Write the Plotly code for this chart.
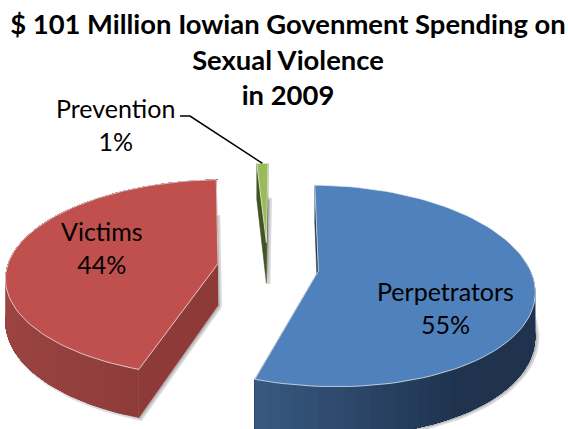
import numpy as np
import plotly.graph_objects as go

categories = ["Perpetrators", "Victims", "Prevention"]
shares = [55, 44, 1]
title_lines = ["$ 101 Million Iowian Govenment Spending on", "Sexual Violence", "in 2009"]

PULLS = [0.24, 0.24, 0.26]
LEAN = [0.0, 0.0, 4.0]
TOP_COLORS = ["#4F81BD", "#C0504D", "#9BBB59"]
WALL_NEAR = ["#1F334F", "#9C4543", "#4F6228"]
WALL_FAR = ["#37587F", "#853533", "#4F6228"]
RADIAL_COLORS = ["#1F3553", "#8E3A38", "#435424"]

CX, CY, K, QK, P, H, SKEW = 268, 267, 211, 97.4, 0.146, 42, 9.0
START = 89.0


def project(X, Y, z=0.0):
    Y = np.asarray(Y, dtype=float)
    w = 1 + P * Y
    return CX + K * np.asarray(X) / w + SKEW * (Y * Y - Y) / 2, CY - QK * Y / w + H * z / w


def mix(a, b, t):
    ca = [int(a[i:i + 2], 16) for i in (1, 3, 5)]
    cb = [int(b[i:i + 2], 16) for i in (1, 3, 5)]
    return "rgb(%d,%d,%d)" % tuple(round(u + (v - u) * t) for u, v in zip(ca, cb))


def poly(x, y, fill, line=None, width=0.0):
    return go.Scatter(x=list(x), y=list(y), mode="lines", fill="toself", fillcolor=fill,
                      line=dict(color=line or fill, width=width), hoverinfo="skip", showlegend=False)


fig = go.Figure()
spans = []
a = START
for s in shares:
    spans.append((a, a - s * 3.6))
    a -= s * 3.6

shadow_layers, wall_layers, top_layers = [], [], []
tips = {}
for i, (a0, a1) in enumerate(spans):
    mid = np.radians((a0 + a1) / 2)
    ox, oy = PULLS[i] * np.cos(mid), PULLS[i] * np.sin(mid)
    th = np.radians(np.linspace(a0, a1, 90))
    Xs = np.r_[ox, ox + np.cos(th), ox]
    Ys = np.r_[oy, oy + np.sin(th), oy]
    tx, ty = project(Xs, Ys, 0)
    bx, by = project(Xs, Ys, 1)
    tx = tx - LEAN[i] * (Ys - oy)
    bx = bx - LEAN[i] * (Ys - oy)
    tips[categories[i]] = (tx[len(tx) // 2], ty[len(ty) // 2])

    shadow_layers.append(go.Scatter(x=bx + 2, y=by + 1, mode="lines", fill="toself",
                                    fillcolor="rgba(140,140,140,0.45)",
                                    line=dict(color="rgba(150,150,150,0.35)", width=4),
                                    hoverinfo="skip", showlegend=False))
    # radial side walls
    for idx in (1, -2):
        qx = [tx[0], tx[idx], bx[idx], bx[0]]
        qy = [ty[0], ty[idx], by[idx], by[0]]
        wall_layers.append(poly(qx, qy, RADIAL_COLORS[i], width=0.5))
    # outer wall: overlapping bands, each running to the slice's far end, so no seams show
    deg = np.arange(a0, a1 - 3, -3.0)
    deg = np.r_[deg, a1]
    for d0, d1 in zip(deg[:-1], deg[1:]):
        if np.sin(np.radians((d0 + d1) / 2)) > 0.12:
            continue
        sub = np.radians(np.arange(d0, a1 - 1.5, -1.5))
        sub = np.r_[sub, np.radians(a1)]
        sx = ox + np.cos(sub)
        sy = oy + np.sin(sub)
        ax, ay = project(sx, sy, 0)
        cx, cy = project(sx, sy, 1)
        pos = np.clip((np.cos(np.radians((d0 + d1) / 2)) + 1) / 2, 0, 1)
        if i == 0:
            col = mix(WALL_FAR[0], WALL_NEAR[0], np.clip((pos - 0.35) / 0.4, 0, 1))
        else:
            col = mix(WALL_NEAR[i], WALL_FAR[i], np.clip(pos / 0.55, 0, 1))
        wall_layers.append(poly(np.r_[ax, cx[::-1]], np.r_[ay, cy[::-1]], col))
    top_layers.append(poly(tx, ty, TOP_COLORS[i], line="rgba(235,238,242,0.75)", width=1))

for tr in shadow_layers + wall_layers + top_layers:
    fig.add_trace(tr)

# leader line from the Prevention label to its slice
tipx, tipy = tips["Prevention"]
fig.add_trace(go.Scatter(x=[180, 190, tipx], y=[116, 116, tipy], mode="lines",
                         line=dict(color="black", width=1.5), hoverinfo="skip", showlegend=False))

label_pos = {"Perpetrators": (445, 307), "Victims": (102, 247), "Prevention": (115, 124)}
for name, val in zip(categories, shares):
    lx, ly = label_pos[name]
    fig.add_annotation(x=lx, y=ly, text=f"{name}<br>{val}%", showarrow=False,
                       font=dict(family="Lato", size=25, color="black"), align="center")

fig.update_layout(
    width=568, height=429, margin=dict(l=0, r=0, t=0, b=0),
    paper_bgcolor="white", plot_bgcolor="white", showlegend=False,
    title=dict(text="<br>".join(title_lines), x=0.507, xanchor="center", y=0.921, yanchor="top",
               font=dict(family="Lato", size=27.4, color="black", weight=700)),
    xaxis=dict(range=[0, 568], visible=False, fixedrange=True),
    yaxis=dict(range=[429, 0], visible=False, fixedrange=True),
)
fig.write_html("out.html", config={"displayModeBar": False},
               post_script="document.body.style.margin='0';document.documentElement.style.overflow='hidden';")
